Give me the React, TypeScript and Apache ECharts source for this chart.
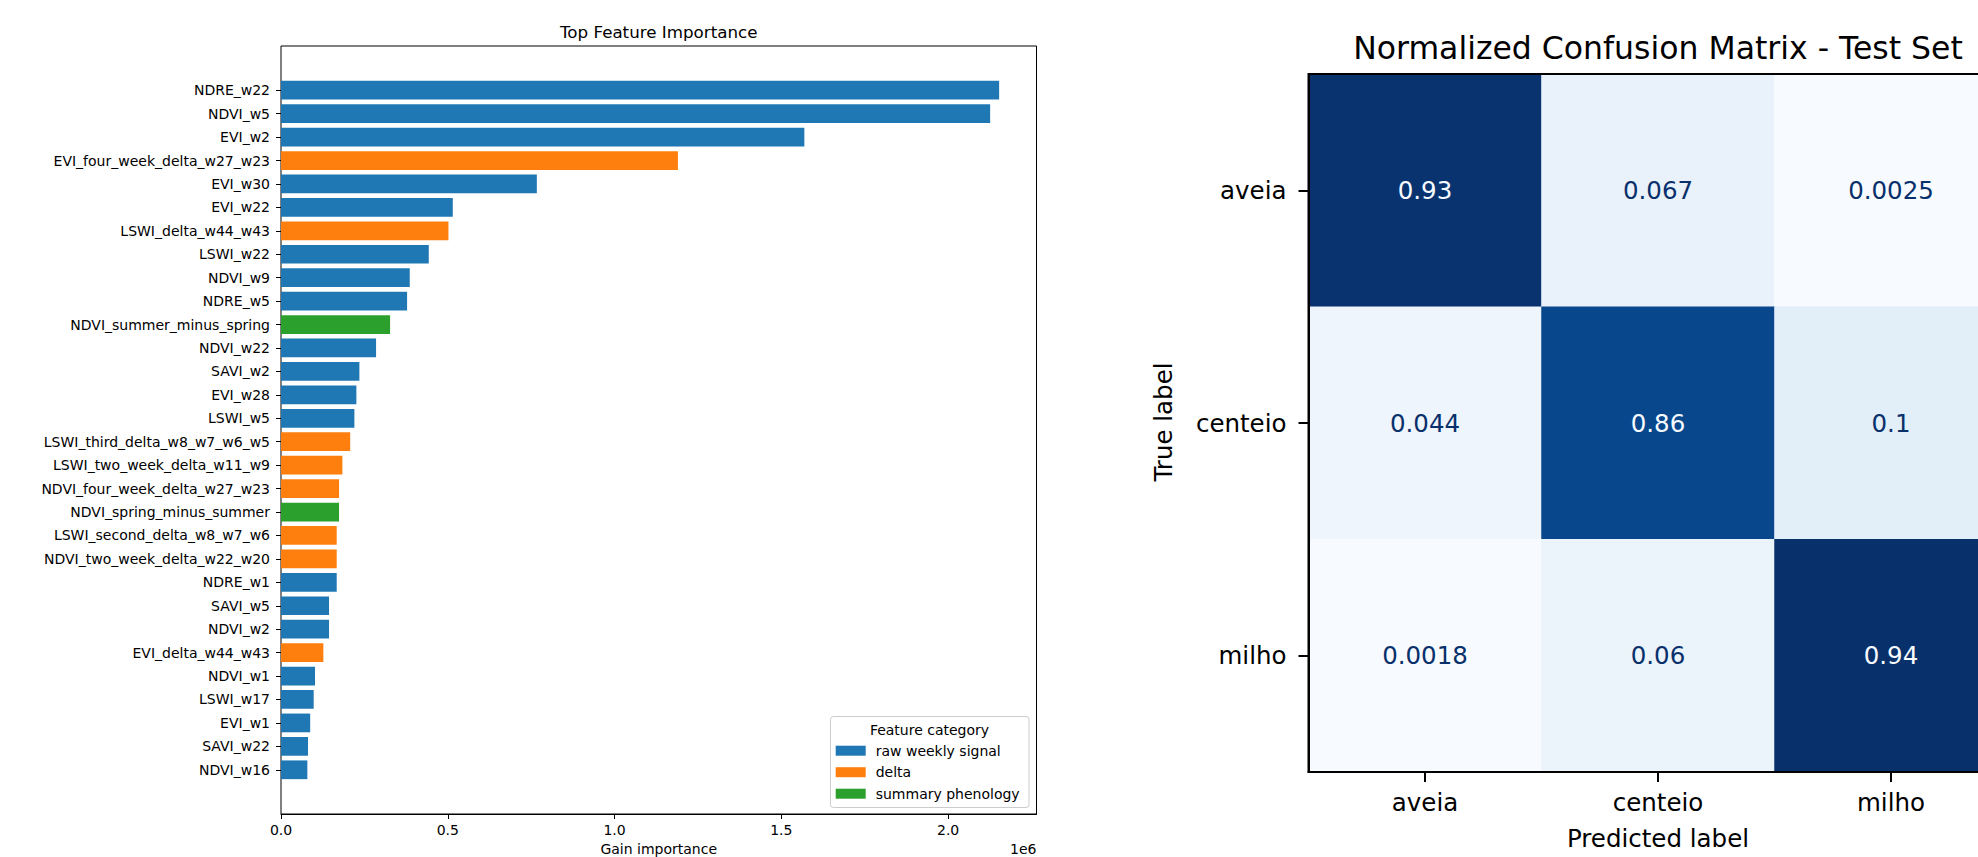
import React, { useEffect, useRef } from "react";
import * as echarts from "echarts";

// ---------- Left chart data ----------
const features = [
  "NDRE_w22", "NDVI_w5", "EVI_w2", "EVI_four_week_delta_w27_w23", "EVI_w30",
  "EVI_w22", "LSWI_delta_w44_w43", "LSWI_w22", "NDVI_w9", "NDRE_w5",
  "NDVI_summer_minus_spring", "NDVI_w22", "SAVI_w2", "EVI_w28", "LSWI_w5",
  "LSWI_third_delta_w8_w7_w6_w5", "LSWI_two_week_delta_w11_w9", "NDVI_four_week_delta_w27_w23",
  "NDVI_spring_minus_summer", "LSWI_second_delta_w8_w7_w6", "NDVI_two_week_delta_w22_w20",
  "NDRE_w1", "SAVI_w5", "NDVI_w2", "EVI_delta_w44_w43", "NDVI_w1", "LSWI_w17",
  "EVI_w1", "SAVI_w22", "NDVI_w16",
];
const gains = [
  2153000, 2126000, 1569000, 1190000, 767000,
  515000, 502000, 443000, 386000, 378000,
  327000, 285000, 235000, 226000, 220000,
  207500, 184000, 174000,
  174000, 167000, 167000,
  167000, 144000, 144000, 127000, 102000, 98000,
  87500, 81000, 79000,
];
// 0 = raw weekly signal, 1 = delta, 2 = summary phenology
const featureCategory = [
  0, 0, 0, 1, 0,
  0, 1, 0, 0, 0,
  2, 0, 0, 0, 0,
  1, 1, 1,
  2, 1, 1,
  0, 0, 0, 1, 0, 0,
  0, 0, 0,
];
const categoryNames = ["raw weekly signal", "delta", "summary phenology"];
const categoryColors = ["#1f77b4", "#ff7f0e", "#2ca02c"];
const xTicks = [0, 500000, 1000000, 1500000, 2000000];

// ---------- Right chart data ----------
const classLabels = ["aveia", "centeio", "milho"];
const cmRowAveia = [0.93, 0.067, 0.0025];
const cmRowCenteio = [0.044, 0.86, 0.1];
const cmRowMilho = [0.0018, 0.06, 0.94];
const blues = ["#f7fbff", "#deebf7", "#c6dbef", "#9ecae1", "#6baed6", "#4292c6", "#2171b5", "#08519c", "#08306b"];

const FONT = "DejaVu Sans";

export default function App() {
  const ref = useRef<HTMLDivElement>(null);

  useEffect(() => {
    document.body.style.margin = "0";
    if (!ref.current) return;
    const chart = echarts.init(ref.current, undefined, { renderer: "svg" });

    const L = 281, T = 46, W = 755.5, H = 768;
    const barTop = 78.5, barH = 703;
    const xMax = 2265000;

    const cmRows = [cmRowAveia, cmRowCenteio, cmRowMilho];
    const flat = cmRows.flat();
    const vmin = Math.min(...flat);
    const vmax = Math.max(...flat);
    const thresh = (vmin + vmax) / 2;
    const heatData: any[] = [];
    cmRows.forEach((row, r) =>
      row.forEach((v, c) => {
        heatData.push({
          value: [c, r, v],
          label: { color: v > thresh ? blues[0] : blues[8] },
        });
      })
    );

    const CL = 1308.5, CT = 74, CW = 699, CH = 698;
    const cmFont = 24.5;

    const barSeries = categoryNames.map((name, k) => ({
      name,
      type: "bar",
      xAxisIndex: 1,
      yAxisIndex: 1,
      stack: "all",
      barWidth: "80%",
      itemStyle: { color: categoryColors[k] },
      emphasis: { disabled: true },
      data: gains.map((g, i) => (featureCategory[i] === k ? g : "-")),
    }));

    const option: any = {
      animation: false,
      backgroundColor: "#fff",
      textStyle: { fontFamily: FONT },
      grid: [
        { left: L, top: T, width: W, height: H, show: true, borderColor: "#000", borderWidth: 1, backgroundColor: "transparent", outerBoundsMode: "none", containLabel: false },
        { left: L, top: barTop, width: W, height: barH, outerBoundsMode: "none", containLabel: false },
        { left: CL, top: CT, width: CW, height: CH, show: true, borderColor: "#000", borderWidth: 2, backgroundColor: "transparent", z: 5, outerBoundsMode: "none", containLabel: false },
      ],
      xAxis: [
        {
          gridIndex: 0, type: "value", min: 0, max: xMax, interval: 500000,
          axisLine: { show: true, lineStyle: { color: "#000", width: 1 } },
          axisTick: { show: true, length: 5, lineStyle: { color: "#000" }, customValues: xTicks },
          axisLabel: {
            fontSize: 14, color: "#000", margin: 9, fontFamily: FONT,
            customValues: xTicks,
            formatter: (v: number) => (v / 1e6).toFixed(1),
          },
          splitLine: { show: false },
        },
        { gridIndex: 1, type: "value", min: 0, max: xMax, show: false },
        {
          gridIndex: 2, type: "category", data: classLabels, position: "bottom",
          axisLine: { show: true, lineStyle: { color: "#000", width: 2 } },
          axisTick: { show: true, alignWithLabel: true, length: 10, lineStyle: { color: "#000", width: 2 } },
          axisLabel: { fontSize: cmFont, color: "#000", margin: 18, fontFamily: FONT },
          splitLine: { show: false },
          z: 6,
        },
      ],
      yAxis: [
        { gridIndex: 0, type: "value", min: 0, max: 1, show: false },
        {
          gridIndex: 1, type: "category", data: features, inverse: true,
          axisLine: { show: false },
          axisTick: { show: true, alignWithLabel: true, length: 5, interval: 0, lineStyle: { color: "#000" } },
          axisLabel: { fontSize: 14, color: "#000", margin: 11, interval: 0, fontFamily: FONT },
          splitLine: { show: false },
        },
        {
          gridIndex: 2, type: "category", data: classLabels, inverse: true,
          axisLine: { show: true, lineStyle: { color: "#000", width: 2 } },
          axisTick: { show: true, alignWithLabel: true, length: 10, lineStyle: { color: "#000", width: 2 } },
          axisLabel: { fontSize: cmFont, color: "#000", margin: 22, fontFamily: FONT },
          splitLine: { show: false },
          z: 6,
        },
      ],
      visualMap: {
        show: false,
        type: "continuous",
        min: vmin,
        max: vmax,
        seriesIndex: 3,
        dimension: 2,
        inRange: { color: blues },
      },
      legend: {
        data: categoryNames,
        orient: "vertical",
        left: 835.7,
        top: 743.7,
        itemWidth: 30,
        itemHeight: 10,
        itemGap: 7.5,
        padding: 0,
        icon: "rect",
        selectedMode: false,
        textStyle: { fontSize: 14, color: "#000", fontFamily: FONT, padding: [0, 0, 0, 5] },
        z: 10,
      },
      graphic: [
        {
          type: "rect", z: 9,
          shape: { x: 830.5, y: 716.5, width: 198.5, height: 91, r: 3 },
          style: { fill: "rgba(255,255,255,0.8)", stroke: "#cccccc", lineWidth: 1 },
        },
        {
          type: "text", z: 10, x: 929.5, y: 729.5,
          style: { text: "Feature category", fontSize: 14, fontFamily: FONT, fill: "#000", textAlign: "center", textVerticalAlign: "middle" },
        },
        {
          type: "text", x: 658.7, y: 31.5,
          style: { text: "Top Feature Importance", fontSize: 16.7, fontFamily: FONT, fill: "#000", textAlign: "center", textVerticalAlign: "middle" },
        },
        {
          type: "text", x: 658.7, y: 848.5,
          style: { text: "Gain importance", fontSize: 14, fontFamily: FONT, fill: "#000", textAlign: "center", textVerticalAlign: "middle" },
        },
        {
          type: "text", x: 1036.5, y: 848.5,
          style: { text: "1e6", fontSize: 14, fontFamily: FONT, fill: "#000", textAlign: "right", textVerticalAlign: "middle" },
        },
        {
          type: "text", x: 1658, y: 48,
          style: { text: "Normalized Confusion Matrix - Test Set", fontSize: 31.5, fontFamily: FONT, fill: "#000", textAlign: "center", textVerticalAlign: "middle" },
        },
        {
          type: "text", x: 1658, y: 838,
          style: { text: "Predicted label", fontSize: cmFont, fontFamily: FONT, fill: "#000", textAlign: "center", textVerticalAlign: "middle" },
        },
        {
          type: "text", x: 1163, y: 422, rotation: Math.PI / 2,
          style: { text: "True label", fontSize: cmFont, fontFamily: FONT, fill: "#000", textAlign: "center", textVerticalAlign: "middle" },
        },
      ],
      series: [
        ...barSeries,
        {
          type: "heatmap",
          xAxisIndex: 2,
          yAxisIndex: 2,
          data: heatData,
          emphasis: { disabled: true },
          label: {
            show: true,
            fontSize: cmFont,
            fontFamily: FONT,
            formatter: (p: any) => String(p.value[2]),
          },
        },
      ],
    };

    chart.setOption(option);
    return () => chart.dispose();
  }, []);

  return <div ref={ref} style={{ width: 1978, height: 857 }} />;
}
